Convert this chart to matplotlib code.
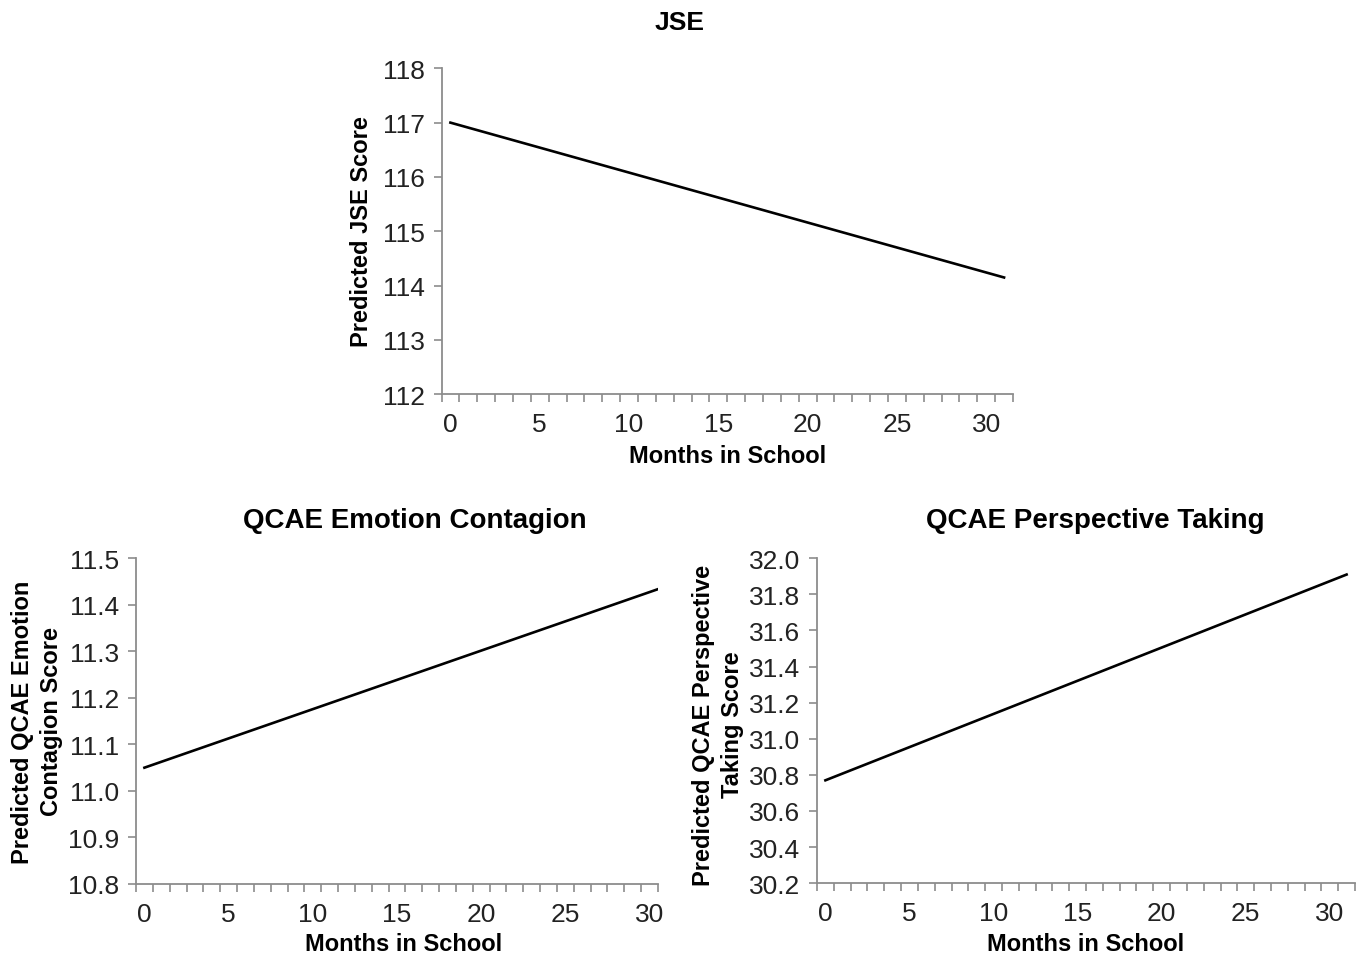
import numpy as np
import matplotlib
matplotlib.use("Agg")
import matplotlib.pyplot as plt

plt.rcParams["font.family"] = ["Liberation Sans", "DejaVu Sans"]

# data
months = [0, 31]
jse_score = [117.0, 114.15]
emotion_score = [11.05, 11.44]
perspective_score = [30.77, 31.91]

jse_ticks = [112, 113, 114, 115, 116, 117, 118]
emotion_ticks = [10.8, 10.9, 11.0, 11.1, 11.2, 11.3, 11.4, 11.5]
perspective_ticks = [30.2, 30.4, 30.6, 30.8, 31.0, 31.2, 31.4, 31.6, 31.8, 32.0]
month_labels = [0, 5, 10, 15, 20, 25, 30]

W, H = 1366, 962
fig = plt.figure(figsize=(W / 100, H / 100), dpi=100)

SPINE = "#8c8c8c"
TXT = "#222222"


def px_axes(x0, y0, x1, y1):
    # pixel box (top-left origin) -> figure fraction
    return fig.add_axes([x0 / W, 1 - y1 / H, (x1 - x0) / W, (y1 - y0) / H])


def style(ax, ymin, ymax, yticks, yfmt, xmax):
    ax.set_ylim(ymin, ymax)
    ax.set_xlim(-0.5, xmax)
    for s in ["top", "right"]:
        ax.spines[s].set_visible(False)
    for s in ["left", "bottom"]:
        ax.spines[s].set_color(SPINE)
        ax.spines[s].set_linewidth(1.3)
    ax.set_yticks(yticks)
    ax.set_yticklabels([yfmt.format(v) for v in yticks])
    # tick marks between months, labels every 5 months
    ax.set_xticks(np.arange(-0.5, xmax + 0.01, 1.0))
    ax.set_xticklabels([])
    ax.set_xticks(month_labels, minor=True)
    ax.set_xticklabels([str(m) for m in month_labels], minor=True)
    ax.tick_params(axis="x", which="major", direction="out", length=6,
                   width=1.2, color=SPINE)
    ax.tick_params(axis="x", which="minor", length=0, pad=13,
                   labelsize=19, labelcolor=TXT)
    ax.tick_params(axis="y", direction="out", length=6, width=1.2,
                   color=SPINE, labelsize=19, labelcolor=TXT, pad=6)


# JSE
ax1 = px_axes(441.5, 69.3, 1013, 395.3)
ax1.plot(months, jse_score, color="black", lw=1.9)
style(ax1, 112, 118, jse_ticks, "{:.0f}", 31.5)
fig.text(680 / W, 1 - 23 / H, "JSE", ha="center", va="center",
         fontsize=19, fontweight="bold")
fig.text(728 / W, 1 - 457 / H, "Months in School", ha="center", va="center",
         fontsize=17, fontweight="bold")
fig.text(362 / W, 1 - 232 / H, "Predicted JSE Score", ha="center",
         va="center", rotation=90, fontsize=17, fontweight="bold")

# QCAE Emotion Contagion
ax2 = px_axes(136, 559.3, 658, 885)
ax2.plot(months, emotion_score, color="black", lw=1.9)
style(ax2, 10.8, 11.5, emotion_ticks, "{:.1f}", 30.5)
fig.text(415 / W, 1 - 521 / H, "QCAE Emotion Contagion", ha="center",
         va="center", fontsize=20, fontweight="bold")
fig.text(404 / W, 1 - 945 / H, "Months in School", ha="center", va="center",
         fontsize=17, fontweight="bold")
fig.text(37 / W, 1 - 722 / H, "Predicted QCAE Emotion\nContagion Score",
         ha="center", va="center", rotation=90, fontsize=17,
         fontweight="bold", linespacing=1.35)

# QCAE Perspective Taking
ax3 = px_axes(817, 559.3, 1355, 884.2)
ax3.plot(months, perspective_score, color="black", lw=1.9)
style(ax3, 30.2, 32.0, perspective_ticks, "{:.1f}", 31.5)
fig.text(1095 / W, 1 - 521 / H, "QCAE Perspective Taking", ha="center",
         va="center", fontsize=20, fontweight="bold")
fig.text(1086 / W, 1 - 945 / H, "Months in School", ha="center", va="center",
         fontsize=17, fontweight="bold")
fig.text(718 / W, 1 - 725 / H, "Predicted QCAE Perspective\nTaking Score",
         ha="center", va="center", rotation=90, fontsize=17,
         fontweight="bold", linespacing=1.35)

fig.savefig("out.png", dpi=100)
